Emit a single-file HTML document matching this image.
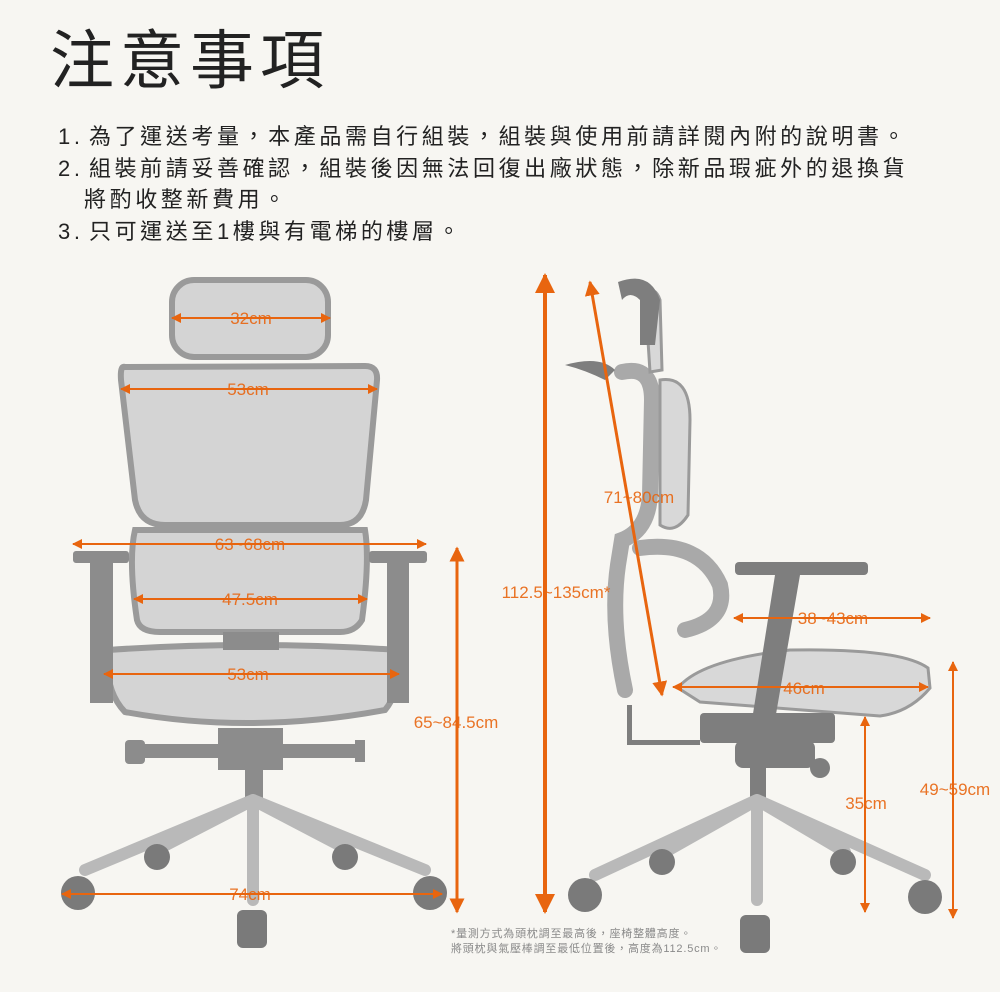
<!DOCTYPE html>
<html><head><meta charset="utf-8"><style>
html,body{margin:0;padding:0;background:#f7f6f2;}
body{width:1000px;height:992px;position:relative;overflow:hidden;font-family:"Liberation Sans","Noto Sans CJK TC",sans-serif;}
h1{position:absolute;left:50px;top:10px;margin:0;font-size:64px;font-weight:400;color:#222;letter-spacing:6px;font-family:"Liberation Sans","Noto Sans CJK TC",sans-serif;}
.l{position:absolute;left:58px;font-size:22px;color:#222;margin:0;letter-spacing:3.6px;white-space:nowrap;}
svg{position:absolute;left:0;top:0;}
</style></head><body>
<h1>注意事項</h1>
<p class="l" style="top:119px">1.&#8202;為了運送考量，本產品需自行組裝，組裝與使用前請詳閱內附的說明書。</p>
<p class="l" style="top:151px">2.&#8202;組裝前請妥善確認，組裝後因無法回復出廠狀態，除新品瑕疵外的退換貨</p>
<p class="l" style="top:182px;left:84px">將酌收整新費用。</p>
<p class="l" style="top:214px">3.&#8202;只可運送至1樓與有電梯的樓層。</p>
<svg width="1000" height="992" viewBox="0 0 1000 992">
<defs>
<marker id="a" viewBox="0 0 10 10" refX="9" refY="5" markerWidth="5" markerHeight="5" orient="auto-start-reverse"><path d="M0,0L10,5L0,10z" fill="#e8650f"/></marker>
</defs>
<g fill="#d4d4d4" stroke="#9a9a9a" stroke-width="6">
<rect x="172" y="280" width="156" height="77" rx="22"/>
<path d="M125,367 Q120,365 121,380 L135,500 Q140,525 165,525 L340,525 Q362,525 366,500 L377,380 Q378,366 365,366 Z"/>
<path d="M135,530 L365,530 Q370,560 362,620 Q355,632 340,632 L160,632 Q140,632 137,620 Q128,560 135,530Z"/>
<path d="M108,650 Q250,640 398,650 Q402,690 385,710 Q250,735 125,712 Q104,690 108,650Z"/>
</g>
<g fill="#8c8c8c">
<rect x="223" y="632" width="56" height="18"/>
<rect x="73" y="551" width="56" height="12" rx="3"/><rect x="90" y="563" width="23" height="140"/>
<rect x="369" y="551" width="58" height="12" rx="3"/><rect x="387" y="563" width="22" height="140"/>
<rect x="218" y="728" width="65" height="42"/>
<rect x="128" y="744" width="235" height="14"/><rect x="125" y="740" width="20" height="24" rx="4"/><rect x="355" y="740" width="10" height="22"/>
<rect x="245" y="770" width="18" height="32"/>
</g>
<g stroke="#b9b9b9" stroke-width="12" stroke-linecap="round" fill="none">
<path d="M253,800 L85,870 M253,800 L425,870 M253,800 L160,848 M253,800 L345,848 M253,800 L253,900"/>
</g>
<g fill="#7a7a7a">
<circle cx="78" cy="893" r="17"/><circle cx="430" cy="893" r="17"/>
<circle cx="157" cy="857" r="13"/><circle cx="345" cy="857" r="13"/>
<rect x="237" y="910" width="30" height="38" rx="6"/>
</g>
<g fill="none" stroke="#a9a9a9" stroke-width="16" stroke-linecap="round">
<path d="M622,372 Q652,365 652,400 L650,495 Q648,530 622,540 L618,565 Q610,620 625,690"/>
<path d="M640,548 Q700,540 720,585 Q728,620 685,630"/>
</g>
<g fill="#d8d8d8" stroke="#9a9a9a" stroke-width="3">
<path d="M660,380 Q690,375 690,420 L688,515 Q675,535 660,525Z"/>
<path d="M645,294 Q655,285 660,300 L662,370 L650,372Z"/>
<path d="M678,688 Q700,660 790,650 Q900,648 928,668 L930,688 Q910,712 880,716 L700,702Z"/>
</g>
<g fill="#7e7e7e">
<path d="M618,282 Q650,270 660,300 L655,345 L640,345 L640,300 Q630,290 622,300Z"/>
<path d="M565,365 Q600,355 615,370 L605,380 Q585,370 565,365Z"/>
<rect x="735" y="562" width="133" height="13" rx="4"/>
<path d="M775,575 L800,575 L775,720 L752,720Z"/>
<rect x="700" y="713" width="135" height="30" rx="4"/>
<rect x="735" y="740" width="80" height="28" rx="8"/>
<circle cx="820" cy="768" r="10"/>
<rect x="750" y="768" width="16" height="34"/>
<path d="M627,705 L632,705 L632,740 L700,740 L700,745 L627,745Z"/>
</g>
<g stroke="#b9b9b9" stroke-width="12" stroke-linecap="round" fill="none">
<path d="M757,800 L595,875 M757,800 L925,875 M757,800 L665,852 M757,800 L845,852 M757,800 L757,900"/>
</g>
<g fill="#7a7a7a">
<circle cx="585" cy="895" r="17"/><circle cx="925" cy="897" r="17"/>
<circle cx="662" cy="862" r="13"/><circle cx="843" cy="862" r="13"/>
<rect x="740" y="915" width="30" height="38" rx="6"/>
</g>
<g stroke="#e8650f" stroke-width="2" marker-start="url(#a)" marker-end="url(#a)">
<line x1="172" y1="318" x2="330" y2="318"/>
<line x1="121" y1="389" x2="377" y2="389"/>
<line x1="73" y1="544" x2="426" y2="544"/>
<line x1="134" y1="599" x2="367" y2="599"/>
<line x1="104" y1="674" x2="399" y2="674"/>
<line x1="62" y1="894" x2="442" y2="894"/>
<line x1="457" y1="548" x2="457" y2="912" stroke-width="3"/>
<line x1="545" y1="275" x2="545" y2="912" stroke-width="4"/>
<line x1="590" y1="282" x2="662" y2="695" stroke-width="3"/>
<line x1="734" y1="618" x2="930" y2="618"/>
<line x1="673" y1="687" x2="928" y2="687"/>
<line x1="865" y1="717" x2="865" y2="912"/>
<line x1="953" y1="662" x2="953" y2="918"/>
</g>
<g font-family="Liberation Sans, sans-serif" font-size="17" fill="#e8650f" text-anchor="middle" opacity="0.9">
<text x="251" y="324">32cm</text><text x="248" y="395">53cm</text>
<text x="250" y="550">63~68cm</text><text x="250" y="605">47.5cm</text>
<text x="248" y="680">53cm</text><text x="250" y="900">74cm</text>
<text x="456" y="728">65~84.5cm</text>
<text x="556" y="598">112.5~135cm*</text>
<text x="639" y="503">71~80cm</text>
<text x="833" y="624">38~43cm</text>
<text x="804" y="694">46cm</text>
<text x="866" y="809">35cm</text>
<text x="955" y="795">49~59cm</text>
</g>
<g font-family="Liberation Sans, Noto Sans CJK TC, sans-serif" font-size="11" fill="#8a8a8a" letter-spacing="0.8">
<text x="451" y="937">*量測方式為頭枕調至最高後，座椅整體高度。</text>
<text x="451" y="952">將頭枕與氣壓棒調至最低位置後，高度為112.5cm。</text>
</g>
</svg>
</body></html>
